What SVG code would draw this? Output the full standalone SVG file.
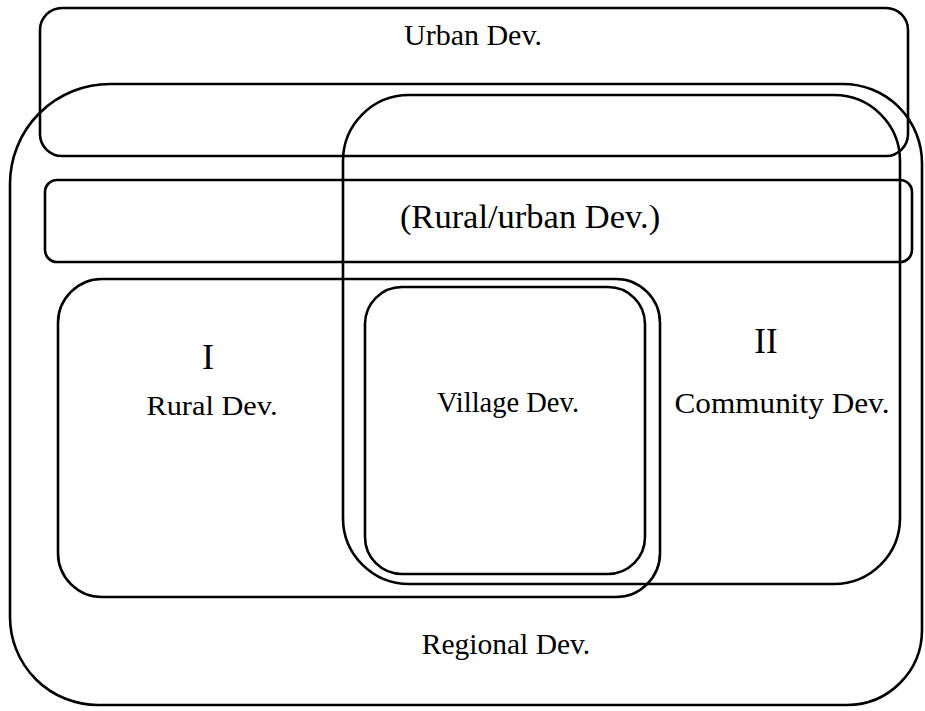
<svg xmlns="http://www.w3.org/2000/svg" width="925" height="711" viewBox="0 0 925 711">
<style>
.b{fill:none;stroke:#000;stroke-width:2.6}
.t{font-family:"Liberation Serif","Times New Roman",serif;fill:#000;text-anchor:middle}
</style>
<rect width="925" height="711" fill="#fff"/>
<g id="regional">
<path class="b" d="M110 84 H843 A79 79 0 0 1 922 163 V630 A75 75 0 0 1 847 705 H98 A88 88 0 0 1 10 617 V184 A100 100 0 0 1 110 84 Z"/>
<text class="t" x="506" y="654" font-size="29.5">Regional Dev.</text>
</g>
<g id="urban">
<rect class="b" x="40" y="8" width="868" height="148" rx="22"/>
<text class="t" x="473" y="45" font-size="30">Urban Dev.</text>
</g>
<g id="rural-urban">
<rect class="b" x="45" y="180" width="867" height="82" rx="12"/>
<text class="t" x="530" y="228" font-size="34.5">(Rural/urban Dev.)</text>
</g>
<g id="community">
<rect class="b" x="343" y="95" width="557" height="489" rx="66"/>
<text class="t" x="766" y="353" font-size="35">II</text>
<text class="t" x="782" y="413" font-size="29" textLength="215" lengthAdjust="spacingAndGlyphs">Community Dev.</text>
</g>
<g id="rural">
<rect class="b" x="58" y="279" width="602" height="318" rx="44"/>
<text class="t" x="208" y="369" font-size="36">I</text>
<text class="t" x="212" y="415" font-size="27" textLength="131" lengthAdjust="spacingAndGlyphs">Rural Dev.</text>
</g>
<g id="village">
<rect class="b" x="365" y="287" width="280" height="287" rx="37"/>
<text class="t" x="508" y="412" font-size="28.5">Village Dev.</text>
</g>
<g id="connectors"/>
</svg>
